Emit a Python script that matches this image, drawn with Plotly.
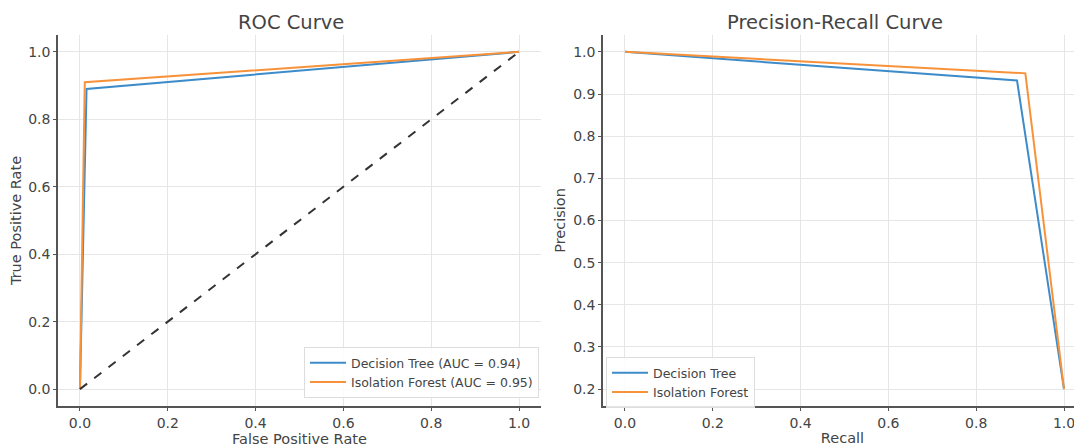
import plotly.graph_objects as go

# ROC data
roc_dt_fpr = [0.0, 0.015, 1.0]
roc_dt_tpr = [0.0, 0.89, 1.0]
roc_if_fpr = [0.0, 0.011, 1.0]
roc_if_tpr = [0.0, 0.91, 1.0]
chance_x = [0.0, 1.0]
chance_y = [0.0, 1.0]

# Precision-Recall data
pr_dt_recall = [0.0, 0.893, 1.0]
pr_dt_precision = [1.0, 0.932, 0.2]
pr_if_recall = [0.0, 0.912, 1.0]
pr_if_precision = [1.0, 0.949, 0.2]

labels_roc = ["Decision Tree (AUC = 0.94)", "Isolation Forest (AUC = 0.95)"]
labels_pr = ["Decision Tree", "Isolation Forest"]
tick_vals_x = [0.0, 0.2, 0.4, 0.6, 0.8, 1.0]
tick_vals_roc_y = [0.0, 0.2, 0.4, 0.6, 0.8, 1.0]
tick_vals_pr_y = [0.2, 0.3, 0.4, 0.5, 0.6, 0.7, 0.8, 0.9, 1.0]

BLUE = "#3d8cc9"
ORANGE = "#f7923a"
W, H = 1082, 447
OFF = 8  # page body margin
TXT = "#444444"
FONT = "DejaVu Sans"


def px(x):
    return (x - OFF) / W


def py(y):
    return 1 - (y - OFF) / H


fig = go.Figure()
fig.add_trace(go.Scatter(x=roc_dt_fpr, y=roc_dt_tpr, mode="lines", name=labels_roc[0],
                         line=dict(color=BLUE, width=2), xaxis="x", yaxis="y", legend="legend"))
fig.add_trace(go.Scatter(x=roc_if_fpr, y=roc_if_tpr, mode="lines", name=labels_roc[1],
                         line=dict(color=ORANGE, width=2), xaxis="x", yaxis="y", legend="legend"))
fig.add_trace(go.Scatter(x=chance_x, y=chance_y, mode="lines", showlegend=False,
                         line=dict(color="#333333", width=2, dash="dash"), xaxis="x", yaxis="y"))
fig.add_trace(go.Scatter(x=pr_dt_recall, y=pr_dt_precision, mode="lines", name=labels_pr[0],
                         line=dict(color=BLUE, width=2), xaxis="x2", yaxis="y2", legend="legend2"))
fig.add_trace(go.Scatter(x=pr_if_recall, y=pr_if_precision, mode="lines", name=labels_pr[1],
                         line=dict(color=ORANGE, width=2), xaxis="x2", yaxis="y2", legend="legend2"))

ydom = [py(406), py(35)]
axis_common = dict(showgrid=True, gridcolor="#e6e6e6", gridwidth=1, zeroline=False,
                   showline=True, linecolor="#555555", linewidth=1.5, ticks="outside",
                   ticklen=3, tickcolor="#555555", tickfont=dict(size=14, color=TXT, family=FONT),
                   automargin=False, tickformat=".1f")
title_font = dict(size=14.5, color=TXT)

fig.update_layout(
    width=W, height=H,
    margin=dict(l=0, r=0, t=0, b=0),
    paper_bgcolor="white", plot_bgcolor="white",
    font=dict(family=FONT, color=TXT),
    xaxis=dict(domain=[px(58), px(541)], range=[-0.05, 1.05], tickvals=tick_vals_x, anchor="y",
               title=dict(text="False Positive Rate", font=title_font, standoff=3),
               **axis_common),
    yaxis=dict(domain=ydom, range=[-0.05, 1.05], tickvals=tick_vals_roc_y, anchor="x",
               title=dict(text="True Positive Rate", font=title_font, standoff=4),
               **axis_common),
    xaxis2=dict(domain=[px(603), px(1082)], range=[-0.05, 1.041], tickvals=tick_vals_x, anchor="y2",
                title=dict(text="Recall", font=title_font, standoff=3),
                **axis_common),
    yaxis2=dict(domain=ydom, range=[0.16, 1.04], tickvals=tick_vals_pr_y, anchor="x2",
                title=dict(text="Precision", font=title_font, standoff=4),
                **axis_common),
    legend=dict(x=px(539), y=py(347), xanchor="right", yanchor="top",
                bgcolor="rgba(255,255,255,0.85)", bordercolor="#dddddd", borderwidth=1,
                font=dict(size=12.5, color=TXT), tracegroupgap=0, itemwidth=36),
    legend2=dict(x=px(606), y=py(357), xanchor="left", yanchor="top",
                 bgcolor="rgba(255,255,255,0.85)", bordercolor="#dddddd", borderwidth=1,
                 font=dict(size=12.5, color=TXT), tracegroupgap=0, itemwidth=36),
    annotations=[
        dict(text="ROC Curve", x=px(291), y=py(22), xref="paper", yref="paper",
             showarrow=False, font=dict(size=19.5, color=TXT), xanchor="center", yanchor="middle"),
        dict(text="Precision-Recall Curve", x=px(835), y=py(22), xref="paper",
             yref="paper", showarrow=False, font=dict(size=19.5, color=TXT),
             xanchor="center", yanchor="middle"),
    ],
)

fig.write_html("out.html")
